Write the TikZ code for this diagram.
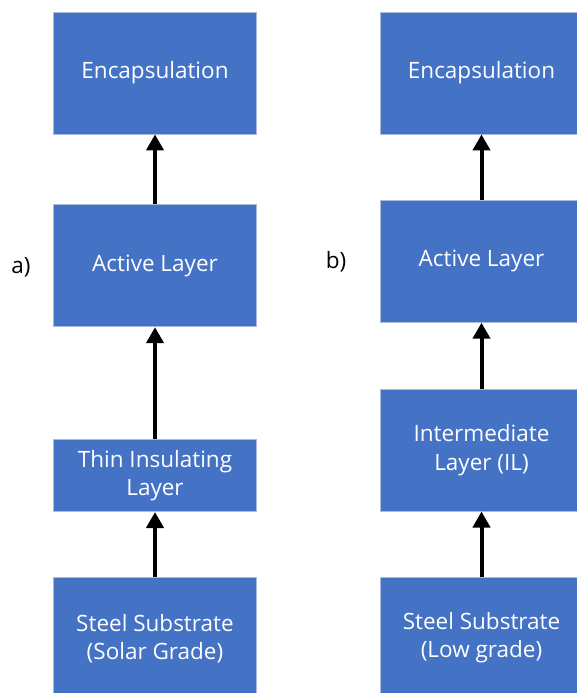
\documentclass[tikz,border=0pt]{standalone}
\usepackage{fontspec}
\setmainfont{Open Sans}
\usetikzlibrary{positioning,arrows.meta}
\definecolor{layerblue}{HTML}{4472C4}
\definecolor{layerline}{HTML}{A9BCDF}

\begin{document}
\begin{tikzpicture}[x=1pt,y=1pt,
  layer/.style={fill=layerblue, draw=layerline, line width=0.8pt, text=white, minimum width=203pt, align=center, font=\fontsize{22.5}{28.3}\selectfont},
  up/.style={line width=4pt, -{Triangle[width=17pt,length=16pt]}}]
\useasboundingbox (0,0) rectangle (577,-693);
\clip (0,0) rectangle (577,-693);

% a)
\node[layer, minimum height=122pt](encA) at (155,-73) {Encapsulation};
\node[layer, minimum height=122pt, below=70pt of encA](actA) {Active Layer};
\node[layer, minimum height=72pt, below=112pt of actA](insA) {Thin Insulating\\Layer};
\node[layer, minimum height=122pt, below=65pt of insA](subA) {Steel Substrate\\(Solar Grade)};
\node[font=\fontsize{22.5}{28}\selectfont](labA) at (21,-267) {a)};

\draw[up] (actA) -- (encA);
\draw[up] (insA) -- (actA);
\draw[up] (subA) -- (insA);

% b)
\node[layer, minimum height=122pt](encB) at (481.5,-73) {Encapsulation};
\node[layer, minimum height=122pt, below=65.5pt of encB](actB) {Active Layer};
\node[layer, minimum height=122pt, below=66pt of actB](ilB) {Intermediate\\Layer (IL)};
\node[layer, minimum height=122pt, below=65pt of ilB](subB) {Steel Substrate\\(Low grade)};
\node[font=\fontsize{22.5}{28}\selectfont](labB) at (336,-262) {b)};

\draw[up] (actB) -- (encB);
\draw[up] (ilB) -- (actB);
\draw[up] (subB) -- (ilB);
\end{tikzpicture}
\end{document}
